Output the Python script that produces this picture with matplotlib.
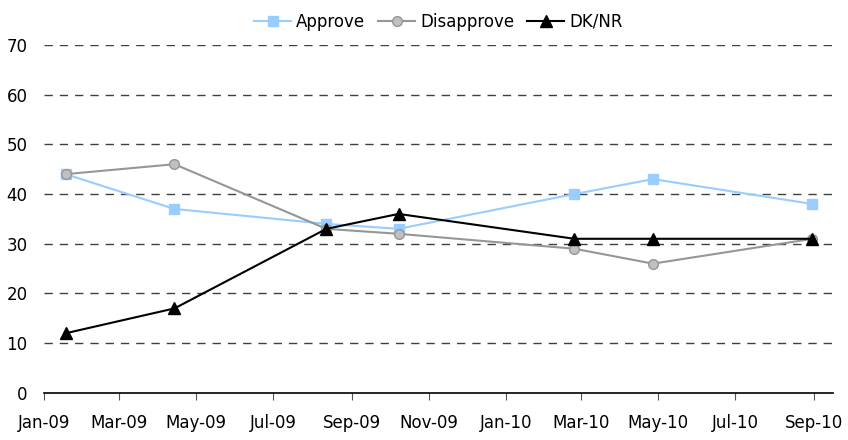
import numpy as np
import matplotlib
matplotlib.use("Agg")
import matplotlib.pyplot as plt
import matplotlib.dates as mdates

dates = np.array(["2009-01-18", "2009-04-14", "2009-08-12", "2009-10-08",
                  "2010-02-24", "2010-04-27", "2010-08-31"], dtype="datetime64[D]")
approve = [44, 37, 34, 33, 40, 43, 38]
disapprove = [44, 46, 33, 32, 29, 26, 31]
dknr = [12, 17, 33, 36, 31, 31, 31]

plt.rcParams["font.family"] = "DejaVu Sans"
plt.rcParams["font.size"] = 12

fig = plt.figure(figsize=(8.48, 4.4), dpi=100)
ax = fig.add_axes([0.052, 0.107, 0.930, 0.791])

ax.plot(dates, approve, color="#99CCFF", lw=1.5, marker="s", ms=7,
        mec="#99CCFF", mfc="#99CCFF", label="Approve", zorder=3)
ax.plot(dates, disapprove, color="#969696", lw=1.5, marker="o", ms=7,
        mfc="#C0C0C0", mec="#969696", mew=1, label="Disapprove", zorder=4)
ax.plot(dates, dknr, color="black", lw=1.5, marker="^", ms=8,
        mfc="black", mec="black", label="DK/NR", zorder=5)

ax.set_ylim(0, 70)
ax.set_yticks(range(0, 71, 10))
ax.set_xlim(np.datetime64("2009-01-01"), np.datetime64("2010-09-16"))
ax.xaxis.set_major_locator(mdates.MonthLocator(bymonth=[1, 3, 5, 7, 9, 11]))
ax.xaxis.set_major_formatter(mdates.DateFormatter("%b-%y"))

for y in range(10, 71, 10):
    ax.axhline(y, color="#404040", lw=1, ls=(0, (6, 5)), zorder=1)

for s in ["top", "right", "left"]:
    ax.spines[s].set_visible(False)
ax.spines["bottom"].set_color("black")
ax.spines["bottom"].set_linewidth(1.2)
ax.tick_params(axis="y", length=0, pad=12)
ax.tick_params(axis="x", direction="out", length=5, pad=10, color="#555555")

ax.legend(loc="upper center", bbox_to_anchor=(0.5, 1.135), ncol=3, frameon=False,
          handlelength=2.2, handletextpad=0.3, columnspacing=0.8)

fig.savefig("out.png", dpi=100)
